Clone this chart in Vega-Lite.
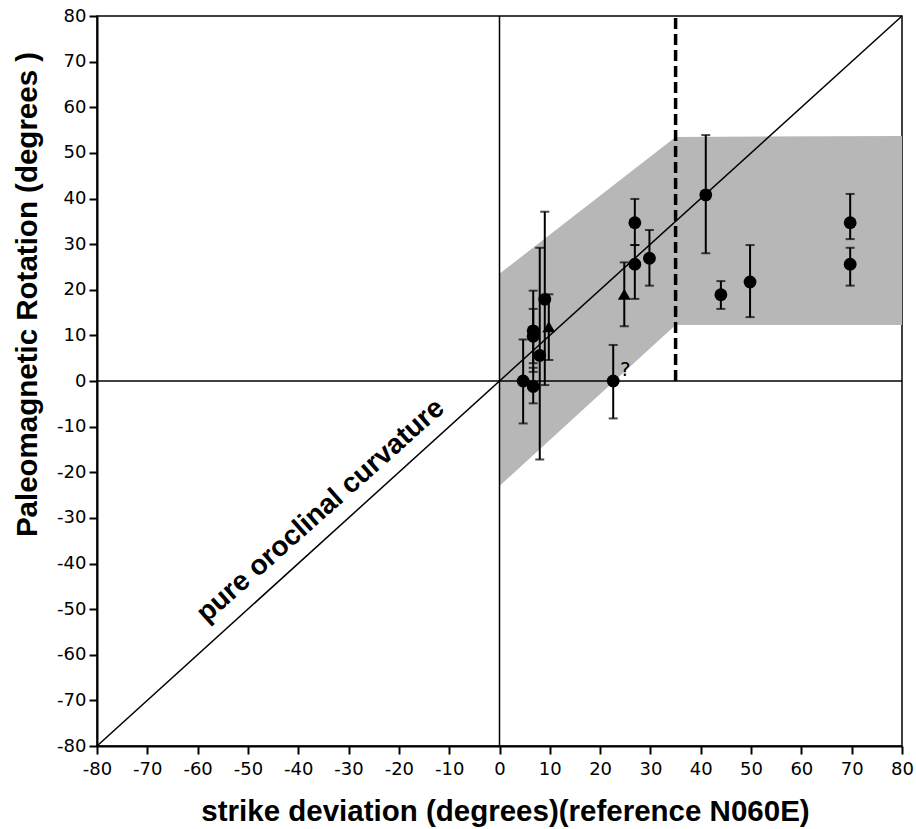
{
  "$schema": "https://vega.github.io/schema/vega-lite/v6.json",
  "width": 805,
  "height": 730,
  "autosize": {"type": "none"},
  "padding": {"left": 97, "top": 16, "right": 14, "bottom": 83},
  "background": "white",
  "config": {
    "view": {"stroke": "black", "strokeWidth": 1.5},
    "axis": {"grid": false}
  },
  "datasets": {
    "band": [
      {"x": 0, "lo": -23, "hi": 23.5},
      {"x": 35, "lo": 12.3, "hi": 53.5},
      {"x": 80, "lo": 12.3, "hi": 53.7}
    ],
    "lines": [
      {"x": -80, "y": 0, "x2": 80, "y2": 0},
      {"x": 0, "y": -80, "x2": 0, "y2": 80},
      {"x": -80, "y": -80, "x2": 80, "y2": 80}
    ],
    "dash": [{"x": 35, "y": 0, "x2": 35, "y2": 80}],
    "pts": [
      {"x": 4.7, "y": 0, "lo": -9.3, "hi": 9.1, "shape": "circle"},
      {"x": 6.7, "y": 11, "lo": 2, "hi": 19.8, "shape": "circle"},
      {"x": 6.7, "y": 9.8, "lo": 3.9, "hi": 15.8, "shape": "circle"},
      {"x": 6.7, "y": -1.2, "lo": -4.9, "hi": 2.9, "shape": "circle"},
      {"x": 8, "y": 5.6, "lo": -17.2, "hi": 29.2, "shape": "circle"},
      {"x": 9, "y": 17.9, "lo": -0.9, "hi": 37.1, "shape": "circle"},
      {"x": 9.8, "y": 11.9, "lo": 4.6, "hi": 19, "shape": "triangle"},
      {"x": 22.6, "y": 0, "lo": -8.2, "hi": 7.9, "shape": "circle"},
      {"x": 24.8, "y": 19, "lo": 12, "hi": 26, "shape": "triangle"},
      {"x": 26.9, "y": 34.7, "lo": 29.8, "hi": 39.9, "shape": "circle"},
      {"x": 26.9, "y": 25.6, "lo": 18, "hi": 29.8, "shape": "circle"},
      {"x": 29.8, "y": 26.9, "lo": 20.9, "hi": 33.1, "shape": "circle"},
      {"x": 41, "y": 40.8, "lo": 28, "hi": 53.9, "shape": "circle"},
      {"x": 44, "y": 18.9, "lo": 15.8, "hi": 21.9, "shape": "circle"},
      {"x": 49.8, "y": 21.7, "lo": 14, "hi": 29.8, "shape": "circle"},
      {"x": 69.7, "y": 34.7, "lo": 31.1, "hi": 41, "shape": "circle"},
      {"x": 69.7, "y": 25.6, "lo": 20.9, "hi": 29.2, "shape": "circle"}
    ],
    "labels": [
      {"x": -35.5, "y": -28.5, "text": "pure oroclinal curvature"}
    ],
    "q": [{"x": 25, "y": 2.5, "text": "?"}]
  },
  "layer": [
    {
      "data": {"name": "band"},
      "mark": {"type": "area", "color": "#b7b7b7", "opacity": 1},
      "encoding": {
        "x": {
          "field": "x", "type": "quantitative",
          "title": "strike deviation (degrees)(reference N060E)",
          "scale": {"domain": [-80, 80], "nice": false, "zero": false},
          "axis": {
            "orient": "bottom",
            "values": [-80,-75,-70,-65,-60,-55,-50,-45,-40,-35,-30,-25,-20,-15,-10,-5,0,5,10,15,20,25,30,35,40,45,50,55,60,65,70,75,80],
            "labelExpr": "datum.value % 10 === 0 ? '' + datum.value : ''",
            "tickSize": 8,
            "tickWidth": 2,
            "tickColor": "black",
            "domainColor": "black",
            "domainWidth": 2,
            "labelFont": "DejaVu Sans",
            "labelFontSize": 18,
            "labelColor": "black",
            "labelPadding": 6,
            "labelFlush": false,
            "labelOverlap": false,
            "encode": {"ticks": {"update": {"y2": {"signal": "datum.value % 10 === 0 ? 8 : 4"}}}},
            "titleFont": "Liberation Sans",
            "titleFontWeight": "bold",
            "titleFontSize": 29.5,
            "titleColor": "black",
            "titleBaseline": "alphabetic",
            "titleY": 74,
            "titleX": 408,
            "titleAnchor": "middle"
          }
        },
        "y": {
          "field": "lo", "type": "quantitative",
          "title": "Paleomagnetic Rotation (degrees )",
          "scale": {"domain": [-80, 80], "nice": false, "zero": false},
          "axis": {
            "orient": "left",
            "values": [-80,-75,-70,-65,-60,-55,-50,-45,-40,-35,-30,-25,-20,-15,-10,-5,0,5,10,15,20,25,30,35,40,45,50,55,60,65,70,75,80],
            "labelExpr": "datum.value % 10 === 0 ? '' + datum.value : ''",
            "tickSize": 8,
            "tickWidth": 2,
            "tickColor": "black",
            "domainColor": "black",
            "domainWidth": 2,
            "labelFont": "DejaVu Sans",
            "labelFontSize": 18,
            "labelColor": "black",
            "labelPadding": 3,
            "labelFlush": false,
            "labelOverlap": false,
            "encode": {"ticks": {"update": {"x2": {"signal": "datum.value % 10 === 0 ? -8 : -4"}}}},
            "titleFont": "Liberation Sans",
            "titleFontWeight": "bold",
            "titleFontSize": 29.5,
            "titleColor": "black",
            "titleAngle": 270,
            "titleBaseline": "alphabetic",
            "titleAlign": "center",
            "titleX": -61,
            "titleY": 278
          }
        },
        "y2": {"field": "hi"}
      }
    },
    {
      "data": {"name": "lines"},
      "mark": {"type": "rule", "color": "black", "strokeWidth": 1.5},
      "encoding": {
        "x": {"field": "x", "type": "quantitative", "title": "strike deviation (degrees)(reference N060E)"},
        "y": {"field": "y", "type": "quantitative", "title": "Paleomagnetic Rotation (degrees )"},
        "x2": {"field": "x2"},
        "y2": {"field": "y2"}
      }
    },
    {
      "data": {"name": "dash"},
      "mark": {"type": "rule", "color": "black", "strokeWidth": 3.5, "strokeDash": [11, 5]},
      "encoding": {
        "x": {"field": "x", "type": "quantitative", "title": "strike deviation (degrees)(reference N060E)"},
        "y": {"field": "y", "type": "quantitative", "title": "Paleomagnetic Rotation (degrees )"},
        "x2": {"field": "x2"},
        "y2": {"field": "y2"}
      }
    },
    {
      "data": {"name": "pts"},
      "mark": {
        "type": "errorbar",
        "color": "black",
        "ticks": {"size": 9, "thickness": 2, "color": "black"},
        "rule": {"strokeWidth": 2, "color": "black"}
      },
      "encoding": {
        "x": {"field": "x", "type": "quantitative", "title": "strike deviation (degrees)(reference N060E)"},
        "y": {"field": "lo", "type": "quantitative", "title": "Paleomagnetic Rotation (degrees )"},
        "y2": {"field": "hi"}
      }
    },
    {
      "data": {"name": "pts"},
      "mark": {"type": "point", "filled": true, "color": "black", "opacity": 1, "size": 165},
      "encoding": {
        "x": {"field": "x", "type": "quantitative", "title": "strike deviation (degrees)(reference N060E)"},
        "y": {"field": "y", "type": "quantitative", "title": "Paleomagnetic Rotation (degrees )"},
        "shape": {
          "field": "shape", "type": "nominal",
          "scale": {"domain": ["circle", "triangle"], "range": ["circle", "triangle-up"]},
          "legend": null
        }
      }
    },
    {
      "data": {"name": "q"},
      "mark": {"type": "text", "font": "DejaVu Sans", "fontSize": 20, "color": "black", "align": "center", "baseline": "middle"},
      "encoding": {
        "x": {"field": "x", "type": "quantitative", "title": "strike deviation (degrees)(reference N060E)"},
        "y": {"field": "y", "type": "quantitative", "title": "Paleomagnetic Rotation (degrees )"},
        "text": {"field": "text"}
      }
    },
    {
      "data": {"name": "labels"},
      "mark": {"type": "text", "font": "Liberation Sans", "fontWeight": "bold", "fontSize": 28, "color": "black", "align": "center", "baseline": "middle", "angle": -41.7},
      "encoding": {
        "x": {"field": "x", "type": "quantitative", "title": "strike deviation (degrees)(reference N060E)"},
        "y": {"field": "y", "type": "quantitative", "title": "Paleomagnetic Rotation (degrees )"},
        "text": {"field": "text"}
      }
    }
  ]
}
